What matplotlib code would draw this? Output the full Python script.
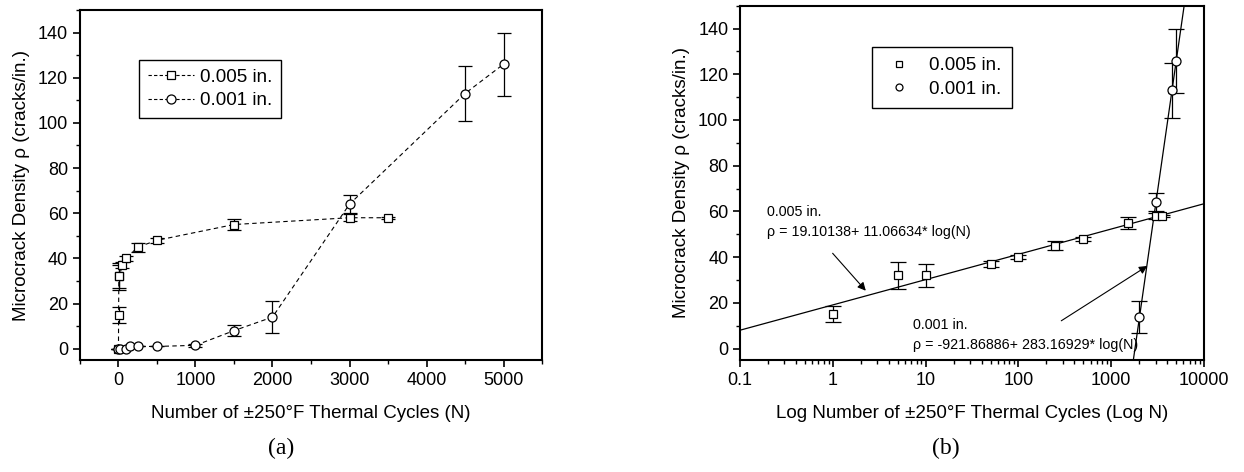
import numpy as np
import matplotlib.pyplot as plt
from matplotlib.lines import Line2D
from matplotlib.ticker import MultipleLocator, LogLocator, NullFormatter

plt.rcParams['font.family'] = ['Liberation Sans', 'DejaVu Sans']

# 0.005 in. data (cycles, crack density, error)
n_005 = [0, 1, 5, 10, 50, 100, 250, 500, 1500, 3000, 3500]
rho_005 = [0, 15, 32, 32, 37, 40, 45, 48, 55, 58, 58]
err_005 = [0, 3.5, 6, 5, 1.3, 1, 2, 1, 2.5, 1.5, 0.5]

# 0.001 in. data
n_001 = [0, 20, 100, 150, 250, 500, 1000, 1500, 2000, 3000, 4500, 5000]
rho_001 = [0, 0, 0, 1, 1, 1, 1.5, 8, 14, 64, 113, 126]
err_001 = [0, 0, 0, 0, 0, 0, 0.8, 2.5, 7, 4, 12, 14]

# log fits shown in panel (b)
fit_005 = (19.10138, 11.06634)
fit_001 = (-921.86886, 283.16929)
fit_005_ends = [0.1, 10000]
fit_001_ends = [1500, 7000]

fig = plt.figure(figsize=(12.44, 4.72), dpi=100)
ax1 = fig.add_axes([0.0643, 0.2373, 0.3714, 0.7415])
ax2 = fig.add_axes([0.5949, 0.2373, 0.373, 0.7506])

tick_fs = 13
lab_fs = 13.5
note_fs = 10.3

# ---- (a)
ax1.errorbar(n_005, rho_005, yerr=err_005, fmt='--s', color='k', lw=0.8,
             mfc='white', mec='k', ms=6, mew=0.9, capsize=5, elinewidth=0.9,
             capthick=0.9, dashes=(4, 3))
ax1.errorbar(n_001, rho_001, yerr=err_001, fmt='--o', color='k', lw=0.8,
             mfc='white', mec='k', ms=6.5, mew=0.9, capsize=5, elinewidth=0.9,
             capthick=0.9, dashes=(4, 3))
ax1.set_xlim(-500, 5500)
ax1.set_ylim(-5, 150)
ax1.xaxis.set_major_locator(MultipleLocator(1000))
ax1.xaxis.set_minor_locator(MultipleLocator(500))
ax1.yaxis.set_major_locator(MultipleLocator(20))
ax1.yaxis.set_minor_locator(MultipleLocator(10))
ax1.set_xlabel('Number of \u00b1250\u00b0F Thermal Cycles (N)', fontsize=lab_fs, labelpad=12)
ax1.set_ylabel('Microcrack Density \u03c1 (cracks/in.)', fontsize=lab_fs, labelpad=6)
h1 = [Line2D([], [], ls='--', dashes=(3, 2), color='k', lw=0.8, marker='s', ms=6,
             mfc='white', mec='k', mew=0.9),
      Line2D([], [], ls='--', dashes=(3, 2), color='k', lw=0.8, marker='o', ms=6.5,
             mfc='white', mec='k', mew=0.9)]
leg1 = ax1.legend(h1, ['0.005 in.', '0.001 in.'], loc='upper left',
                  bbox_to_anchor=(0.128, 0.857), borderaxespad=0, fontsize=lab_fs,
                  frameon=True, fancybox=False, edgecolor='k', framealpha=1,
                  handlelength=2.5, handletextpad=0.3, borderpad=0.45, labelspacing=0.35)
leg1.get_frame().set_linewidth(1.0)

# ---- (b)
ax2.errorbar(n_005[1:], rho_005[1:], yerr=err_005[1:], fmt='s', color='k',
             mfc='white', mec='k', ms=6, mew=0.9, capsize=6, elinewidth=0.9,
             capthick=0.9)
ax2.errorbar(n_001[8:], rho_001[8:], yerr=err_001[8:], fmt='o', color='k',
             mfc='white', mec='k', ms=6.5, mew=0.9, capsize=6, elinewidth=0.9,
             capthick=0.9)
x5 = np.array(fit_005_ends)
x1 = np.array(fit_001_ends)
ax2.plot(x5, fit_005[0] + fit_005[1] * np.log10(x5), color='k', lw=0.9)
ax2.plot(x1, fit_001[0] + fit_001[1] * np.log10(x1), color='k', lw=0.9)
ax2.set_xscale('log')
ax2.set_xlim(0.1, 10000)
ax2.set_ylim(-5, 150)
ax2.set_xticks([0.1, 1, 10, 100, 1000, 10000])
ax2.set_xticklabels(['0.1', '1', '10', '100', '1000', '10000'])
ax2.xaxis.set_minor_locator(LogLocator(base=10, subs=np.arange(2, 10), numticks=20))
ax2.xaxis.set_minor_formatter(NullFormatter())
ax2.yaxis.set_major_locator(MultipleLocator(20))
ax2.yaxis.set_minor_locator(MultipleLocator(10))
ax2.set_xlabel('Log Number of \u00b1250\u00b0F Thermal Cycles (Log N)', fontsize=lab_fs, labelpad=12)
ax2.set_ylabel('Microcrack Density \u03c1 (cracks/in.)', fontsize=lab_fs, labelpad=6)
h2 = [Line2D([], [], ls='none', marker='s', ms=5, mfc='white', mec='k', mew=0.9),
      Line2D([], [], ls='none', marker='o', ms=5, mfc='white', mec='k', mew=0.9)]
leg2 = ax2.legend(h2, ['0.005 in.', '0.001 in.'], loc='upper left',
                  bbox_to_anchor=(0.284, 0.884), borderaxespad=0, fontsize=lab_fs,
                  frameon=True, fancybox=False, edgecolor='k', framealpha=1,
                  handlelength=1.8, handletextpad=0.7, borderpad=0.55, labelspacing=0.35)
leg2.get_frame().set_linewidth(1.0)

ax2.text(0.194, 59.6, '0.005 in.', fontsize=note_fs, va='center')
ax2.text(0.194, 50.8, '\u03c1 = 19.10138+ 11.06634* log(N)', fontsize=note_fs, va='center')
ax2.annotate('', xy=(2.37, 24.4), xytext=(0.95, 42.6),
             arrowprops=dict(arrowstyle='-|>', color='k', lw=0.8, mutation_scale=12))
ax2.text(7.3, 10.5, '0.001 in.', fontsize=note_fs, va='center')
ax2.text(7.3, 1.75, '\u03c1 = -921.86886+ 283.16929* log(N)', fontsize=note_fs, va='center')
ax2.annotate('', xy=(2594, 36.8), xytext=(273, 11.5),
             arrowprops=dict(arrowstyle='-|>', color='k', lw=0.8, mutation_scale=12))

for ax in (ax1, ax2):
    for s in ax.spines.values():
        s.set_linewidth(1.5)
    ax.tick_params(which='major', direction='out', length=5, width=1.2, labelsize=tick_fs)
    ax.tick_params(which='minor', direction='out', length=3, width=1.0)

fig.text(0.2258, 0.05, '(a)', fontsize=17, family='Liberation Serif', ha='center', va='center')
fig.text(0.7605, 0.05, '(b)', fontsize=17, family='Liberation Serif', ha='center', va='center')

fig.savefig('out.png', dpi=100)
